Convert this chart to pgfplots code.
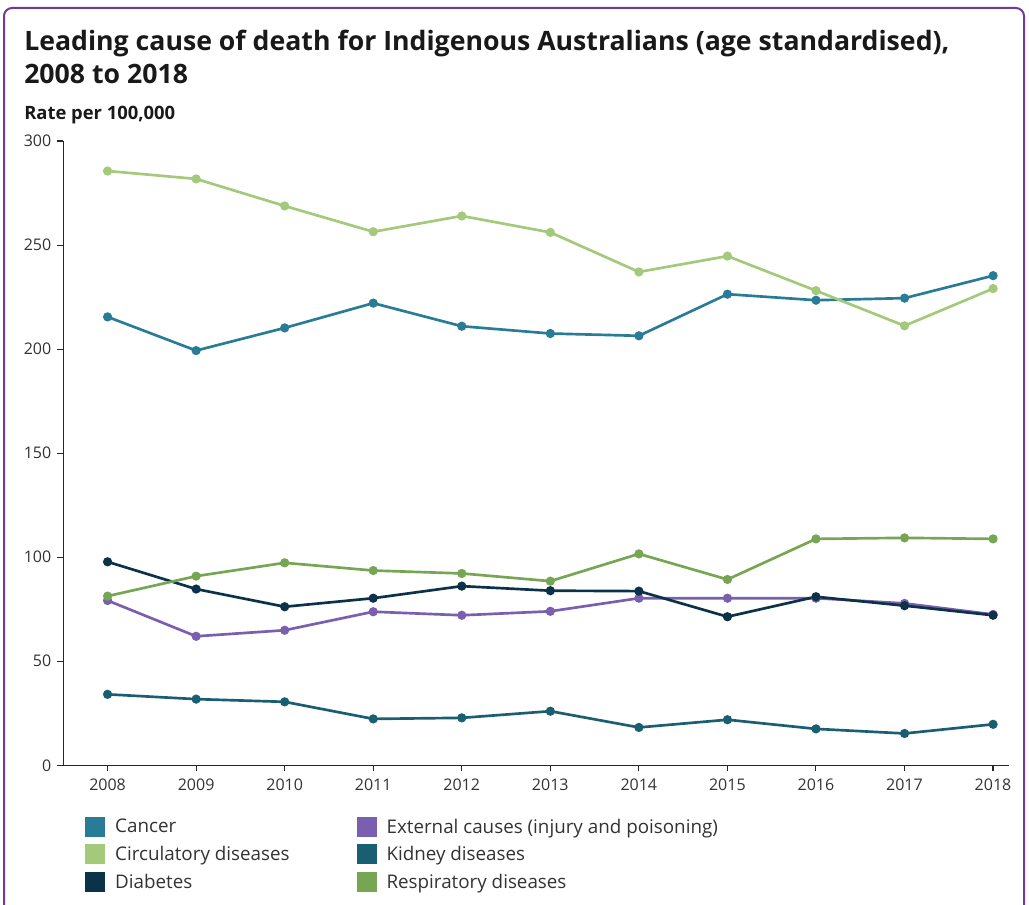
\documentclass[border=0pt]{standalone}
\usepackage{pgfplots}
\pgfplotsset{compat=1.18}
\usepackage{fontspec}
\setmainfont{Open Sans}
\definecolor{cancer}{HTML}{287C96}
\definecolor{circ}{HTML}{A3C97A}
\definecolor{diab}{HTML}{0C3249}
\definecolor{extc}{HTML}{7A5EB0}
\definecolor{kid}{HTML}{1A5E72}
\definecolor{resp}{HTML}{76A654}
\definecolor{frame}{HTML}{6F3AA0}
\definecolor{txt}{HTML}{333333}
\begin{document}
\begin{tikzpicture}
\useasboundingbox (0pt,0pt) rectangle (771.75pt,678pt);
\begin{scope}
\clip (0pt,0pt) rectangle (771.75pt,678pt);
\draw[frame, line width=1.5pt, rounded corners=6pt] (3pt,-15pt) -- (3pt,672pt) -- (768pt,672pt) -- (768pt,-15pt);
\end{scope}
\node[anchor=base west, inner sep=0, font=\bfseries\fontsize{20}{24}\selectfont, text=black!90] at (18pt,640pt) {Leading cause of death for Indigenous Australians (age standardised),};
\node[anchor=base west, inner sep=0, font=\bfseries\fontsize{20}{24}\selectfont, text=black!90] at (18pt,615pt) {2008 to 2018};
\node[anchor=base west, inner sep=0, font=\bfseries\fontsize{13.8}{16}\selectfont, text=black!90] at (18pt,588.5pt) {Rate per 100,000};
\begin{axis}[
  at={(47.475pt,104.025pt)}, anchor=south west,
  scale only axis, width=709.3pt, height=468.2pt,
  xmin=2007.5, xmax=2018.18, ymin=0, ymax=300,
  axis x line*=bottom, axis y line*=left,
  axis line style={draw=black!85, line width=0.8pt},
  xtick={2008,...,2018}, ytick={0,50,...,300},
  tick align=outside, major tick length=4.5pt,
  tick style={draw=black!85, line width=0.8pt},
  /pgf/number format/assume math mode=true,
  xticklabel style={/pgf/number format/1000 sep=, font=\fontsize{12}{14}\selectfont, text=txt, yshift=-2.5pt},
  yticklabel style={font=\fontsize{12}{14}\selectfont, text=txt, xshift=-1pt},
  every axis plot/.append style={line width=2pt, mark=*, mark size=2.4pt},
  legend columns=2,
  legend cell align=left,
  legend style={at={(0.0229,-0.081)}, anchor=north west, draw=none, inner sep=0pt, font=\fontsize{14.1}{17}\selectfont, text=txt, row sep=4.4pt,
    /tikz/every even column/.append style={column sep=0pt}},
  legend image code/.code={\fill[#1, draw=none] (0pt,-7.5pt) rectangle (15pt,7.5pt);},
]
\addplot[color=cancer, mark options={fill=cancer}] coordinates {(2008,215.5) (2009,199.3) (2010,210.2) (2011,222.1) (2012,211.0) (2013,207.5) (2014,206.4) (2015,226.4) (2016,223.5) (2017,224.5) (2018,235.3)};
\addlegendentry{\makebox[184.5pt][l]{\hspace{5.5pt}Cancer}}
\addplot[color=extc, mark options={fill=extc}] coordinates {(2008,79.2) (2009,62.0) (2010,64.9) (2011,73.8) (2012,72.1) (2013,74.0) (2014,80.3) (2015,80.3) (2016,80.3) (2017,77.8) (2018,72.5)};
\addlegendentry{\hspace{5.5pt}External causes (injury and poisoning)}
\addplot[color=circ, mark options={fill=circ}] coordinates {(2008,285.6) (2009,281.8) (2010,268.8) (2011,256.4) (2012,264.0) (2013,256.1) (2014,237.1) (2015,244.7) (2016,228.1) (2017,211.2) (2018,229.1)};
\addlegendentry{\makebox[184.5pt][l]{\hspace{5.5pt}Circulatory diseases}}
\addplot[color=kid, mark options={fill=kid}] coordinates {(2008,34.1) (2009,31.8) (2010,30.5) (2011,22.3) (2012,22.8) (2013,26.0) (2014,18.2) (2015,21.9) (2016,17.5) (2017,15.3) (2018,19.7)};
\addlegendentry{\hspace{5.5pt}Kidney diseases}
\addplot[color=diab, mark options={fill=diab}] coordinates {(2008,97.8) (2009,84.7) (2010,76.2) (2011,80.3) (2012,86.1) (2013,83.9) (2014,83.7) (2015,71.4) (2016,81.0) (2017,76.7) (2018,72.1)};
\addlegendentry{\makebox[184.5pt][l]{\hspace{5.5pt}Diabetes}}
\addplot[color=resp, mark options={fill=resp}] coordinates {(2008,81.3) (2009,90.9) (2010,97.3) (2011,93.6) (2012,92.2) (2013,88.5) (2014,101.6) (2015,89.3) (2016,108.8) (2017,109.3) (2018,108.8)};
\addlegendentry{\hspace{5.5pt}Respiratory diseases}
\end{axis}
\end{tikzpicture}
\end{document}
